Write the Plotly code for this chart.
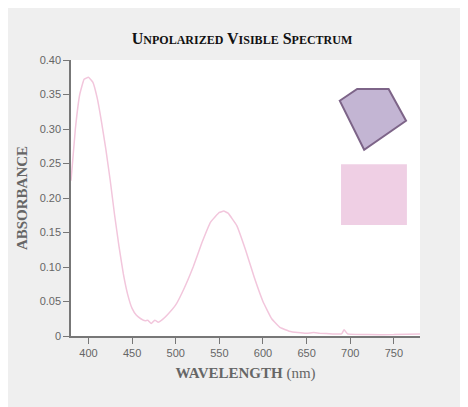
import plotly.graph_objects as go

wavelength = [380, 385, 390, 395, 400, 405, 410, 415, 420, 425, 430, 435, 440, 445, 450, 455, 460,
              465, 468, 472, 476, 480, 485, 490, 500, 510, 520, 530, 540, 550, 555, 560, 570, 580,
              590, 600, 610, 620, 630, 640, 650, 658, 665, 680, 690, 693, 697, 720, 750, 780]
absorbance = [0.225, 0.30, 0.35, 0.372, 0.375, 0.368, 0.345, 0.31, 0.27, 0.225, 0.175, 0.13, 0.09,
              0.06, 0.04, 0.03, 0.025, 0.022, 0.023, 0.018, 0.023, 0.02, 0.024, 0.03, 0.045, 0.07,
              0.10, 0.135, 0.165, 0.179, 0.181, 0.178, 0.16, 0.125, 0.085, 0.05, 0.025, 0.012,
              0.007, 0.005, 0.004, 0.005, 0.004, 0.003, 0.003, 0.009, 0.003, 0.002, 0.002, 0.003]

y_ticks = [0, 0.05, 0.10, 0.15, 0.20, 0.25, 0.30, 0.35, 0.40]
y_labels = ["0", "0.05", "0.10", "0.15", "0.20", "0.25", "0.30", "0.35", "0.40"]

fig = go.Figure(go.Scatter(x=wavelength, y=absorbance, mode="lines",
                           line=dict(color="#f2c6dc", width=1.5, shape="spline", smoothing=0.3),
                           hoverinfo="skip"))

# gem photo stand-in and colour swatch
fig.add_shape(type="path", xref="x", yref="y",
              path="M 688,0.341 L 708,0.358 L 744,0.358 L 764,0.312 L 716,0.270 Z",
              fillcolor="#c3b5d3", line=dict(color="#7d6488", width=2))
fig.add_shape(type="rect", xref="x", yref="y", x0=689.5, x1=765, y0=0.161, y1=0.249,
              fillcolor="#efcfe4", line=dict(width=0))

axis_font = dict(family="Liberation Sans, Arial", size=11, color="#666")
fig.update_layout(
    width=468, height=407,
    paper_bgcolor="#efefef", plot_bgcolor="white",
    margin=dict(l=63, r=56, t=52, b=79),
    showlegend=False,
    title=dict(text="<b>U<span style='font-size:12px'>NPOLARIZED</span> V<span style='font-size:12px'>ISIBLE</span> "
                    "S<span style='font-size:12px'>PECTRUM</span></b>",
               x=0.5, xanchor="center", y=0.925, yanchor="middle",
               font=dict(family="Liberation Serif, serif", size=16, color="#111")),
    xaxis=dict(range=[380, 780], tickvals=[400, 450, 500, 550, 600, 650, 700, 750],
               ticks="outside", ticklen=6, tickcolor="#777", showline=True, linecolor="#777",
               linewidth=1.5, showgrid=False, zeroline=False, tickfont=axis_font,
               title=dict(text="<b>WAVELENGTH</b> (nm)", standoff=10,
                          font=dict(family="Liberation Serif, serif", size=15, color="#666"))),
    yaxis=dict(range=[0, 0.40], tickvals=y_ticks, ticktext=y_labels,
               ticks="outside", ticklen=6, tickcolor="#777", showline=True, linecolor="#777",
               linewidth=1.5, showgrid=False, zeroline=False, tickfont=axis_font,
               title=dict(text="<b>ABSORBANCE</b>", standoff=8,
                          font=dict(family="Liberation Serif, serif", size=15, color="#666"))),
)

fig.write_html("out.html")
